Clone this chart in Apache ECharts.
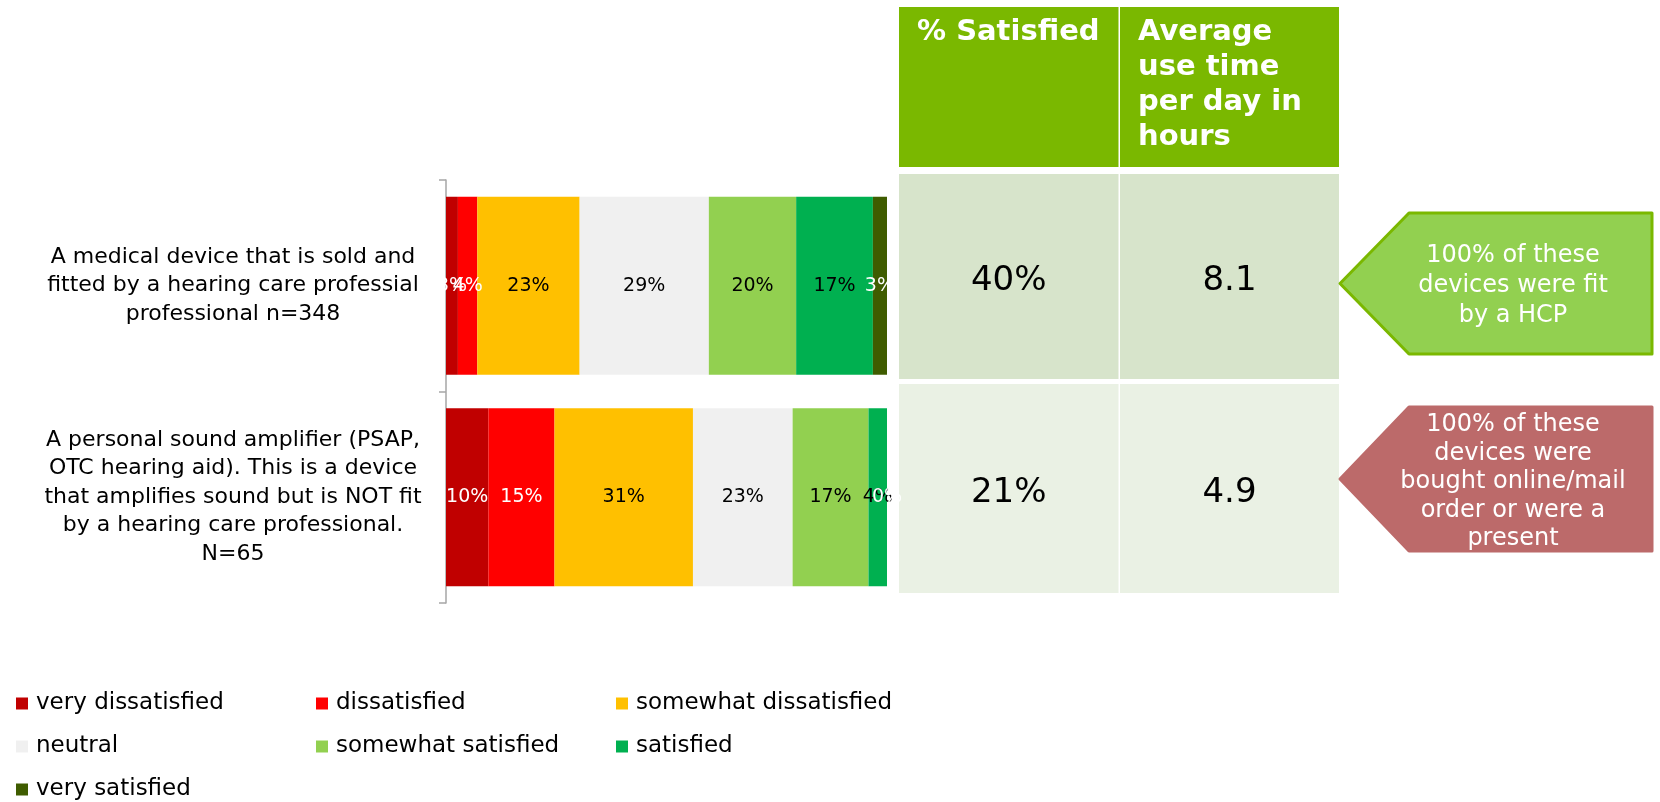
<!DOCTYPE html>
<html>
<head>
<meta charset="utf-8">
<script src="https://cdn.jsdelivr.net/npm/echarts@6/dist/echarts.min.js"></script>
<style>
  html, body { margin: 0; padding: 0; background: #fff; }
  #main { width: 1660px; height: 802px; }
</style>
</head>
<body>
<div id="main"></div>
<script>
// categories (top to bottom)
const categories = [
  'A medical device that is sold and\nfitted by a hearing care professial\nprofessional n=348',
  'A personal sound amplifier (PSAP,\nOTC hearing aid). This is a device\nthat amplifies sound but is NOT fit\nby a hearing care professional.\nN=65'
]
const levels = ['very dissatisfied', 'dissatisfied', 'somewhat dissatisfied', 'neutral', 'somewhat satisfied', 'satisfied', 'very satisfied']
// share per level, one value per category
const veryDissatisfied = [2.7, 9.6]
const dissatisfied = [4.4, 15.0]
const somewhatDissatisfied = [23.2, 31.4]
const neutral = [29.3, 22.6]
const somewhatSatisfied = [19.8, 17.2]
const satisfied = [17.4, 4.2]
const verySatisfied = [3.2, 0]
// side table
const tableHeaders = ['% Satisfied', 'Average\nuse time\nper day in\nhours']
const pctSatisfied = ['40%', '21%']
const useHours = ['8.1', '4.9']
const callouts = [
  '100% of these\ndevices were fit\nby a HCP',
  '100% of these\ndevices were\nbought online/mail\norder or were a\npresent'
]

const seriesData = [veryDissatisfied, dissatisfied, somewhatDissatisfied, neutral, somewhatSatisfied, satisfied, verySatisfied]
const colors = ['#C00000', '#FF0000', '#FFC000', '#F0F0F0', '#92D050', '#00B050', '#3F5C00']
const labelColors = ['#fff', '#fff', '#000', '#000', '#000', '#000', '#fff']
const font = 'DejaVu Sans'

const chart = echarts.init(document.getElementById('main'))

const series = levels.map((name, i) => ({
  name: name,
  type: 'bar',
  stack: 'total',
  barWidth: 178,
  data: seriesData[i],
  itemStyle: { color: colors[i] },
  label: {
    show: true,
    position: 'inside',
    color: labelColors[i],
    fontFamily: font,
    fontSize: 19,
    formatter: p => Math.round(p.value) + '%'
  },
  emphasis: { disabled: true }
}))

// legend: 3 columns, one component per item
const legendCols = [16, 316, 616]
const legendRows = [692, 735, 778]
const legends = levels.map((name, i) => ({
  data: [name],
  left: legendCols[i % 3],
  top: legendRows[Math.floor(i / 3)],
  padding: 0,
  icon: 'rect',
  itemWidth: 12,
  itemHeight: 12,
  itemGap: 0,
  selectedMode: false,
  textStyle: { fontFamily: font, fontSize: 23, color: '#000', padding: [0, 0, 0, 3] }
}))

// table + callouts as graphics
const colX = [899, 1120]
const colW = [219.5, 219]
const rowY = [174, 384]
const rowH = [205, 209]
const rowColors = ['#D7E4CB', '#EAF1E4']
const graphics = []
tableHeaders.forEach((h, c) => {
  graphics.push({ type: 'rect', shape: { x: colX[c], y: 7, width: colW[c], height: 160 }, style: { fill: '#7AB800' } })
  graphics.push({
    type: 'text', x: colX[c] + 18, y: 15,
    style: { text: h, fill: '#fff', fontFamily: font, fontWeight: 'bold', fontSize: 29, lineHeight: 35, align: 'left', verticalAlign: 'top' }
  })
})
;[pctSatisfied, useHours].forEach((vals, c) => {
  vals.forEach((v, r) => {
    graphics.push({ type: 'rect', shape: { x: colX[c], y: rowY[r], width: colW[c], height: rowH[r] }, style: { fill: rowColors[r] } })
    graphics.push({
      type: 'text', x: colX[c] + colW[c] / 2, y: rowY[r] + (r === 0 ? 107 : 109),
      style: { text: v, fill: '#000', fontFamily: font, fontSize: 34, align: 'center', verticalAlign: 'middle' }
    })
  })
})
const calloutBox = [
  { top: 213, bottom: 354, fill: '#92D050', stroke: '#7AB800', lh: 30, dy: 2 },
  { top: 407, bottom: 551, fill: '#BC6A6A', stroke: '#BC6A6A', lh: 28.5, dy: 3 }
]
callouts.forEach((t, i) => {
  const b = calloutBox[i]
  const mid = (b.top + b.bottom) / 2
  graphics.push({
    type: 'polygon',
    shape: { points: [[1340, mid], [1409, b.top], [1652, b.top], [1652, b.bottom], [1409, b.bottom]] },
    style: { fill: b.fill, stroke: b.stroke, lineWidth: 3, lineJoin: 'round' }
  })
  graphics.push({
    type: 'text', x: 1513, y: mid + b.dy,
    style: { text: t, fill: '#fff', fontFamily: font, fontSize: 24, lineHeight: b.lh, align: 'center', verticalAlign: 'middle' }
  })
})

const option = {
  backgroundColor: '#fff',
  animation: false,
  textStyle: { fontFamily: font },
  grid: { left: 446, right: 773, top: 180, bottom: 199 },
  legend: legends,
  xAxis: { type: 'value', min: 0, max: 100, show: false },
  yAxis: {
    type: 'category',
    inverse: true,
    data: categories,
    axisLine: { show: true, lineStyle: { color: '#A6A6A6', width: 1.5 } },
    axisTick: { show: true, length: 7, lineStyle: { color: '#A6A6A6', width: 1.5 } },
    axisLabel: { fontFamily: font, fontSize: 22, lineHeight: 28.5, color: '#000', align: 'center', margin: 213 }
  },
  series: series,
  graphic: graphics
}

chart.setOption(option)
</script>
</body>
</html>
